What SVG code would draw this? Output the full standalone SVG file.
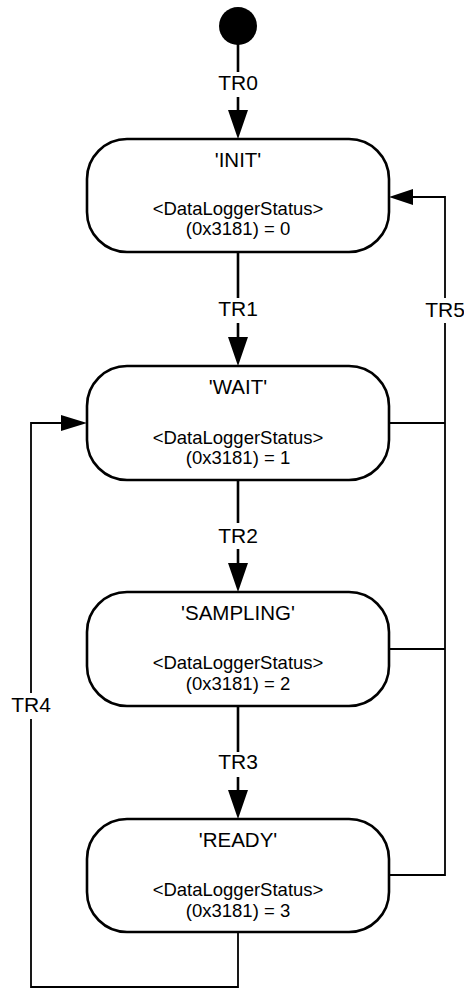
<svg xmlns="http://www.w3.org/2000/svg" width="464" height="989" viewBox="0 0 464 989">
<style>
  .box { fill: #ffffff; stroke: #000000; stroke-width: 2.6; }
  .title { font-family: "Liberation Sans", Arial, sans-serif; font-size: 20.5px; text-anchor: middle; fill: #000; }
  .body { font-family: "Liberation Sans", Arial, sans-serif; font-size: 18.5px; text-anchor: middle; fill: #000; }
  .lbl { font-family: "Liberation Sans", Arial, sans-serif; font-size: 21px; text-anchor: middle; fill: #000; }
  .thick { fill: none; stroke: #000; stroke-width: 2.6; }
  .thin { fill: none; stroke: #000; stroke-width: 1.8; }
  .head { fill: #000; stroke: none; }
</style>
<rect x="0" y="0" width="464" height="989" fill="#ffffff"/>

<g id="connectors">
  <!-- TR0 -->
  <line class="thick" x1="238" y1="44" x2="238" y2="72"/>
  <line class="thick" x1="238" y1="97" x2="238" y2="112"/>
  <polygon class="head" points="228,110 248,110 238,139"/>
  <text class="lbl" x="238" y="90">TR0</text>
  <!-- TR1 -->
  <line class="thick" x1="238" y1="252" x2="238" y2="298"/>
  <line class="thick" x1="238" y1="323" x2="238" y2="339"/>
  <polygon class="head" points="228,337 248,337 238,366"/>
  <text class="lbl" x="238" y="316">TR1</text>
  <!-- TR2 -->
  <line class="thick" x1="238" y1="480" x2="238" y2="523"/>
  <line class="thick" x1="238" y1="549" x2="238" y2="565"/>
  <polygon class="head" points="228,563 248,563 238,592"/>
  <text class="lbl" x="238" y="543">TR2</text>
  <!-- TR3 -->
  <line class="thick" x1="238" y1="706" x2="238" y2="752"/>
  <line class="thick" x1="238" y1="777" x2="238" y2="792"/>
  <polygon class="head" points="228,790 248,790 238,819"/>
  <text class="lbl" x="238" y="769">TR3</text>
  <!-- TR4 -->
  <polyline class="thin" points="238,932 238,987 31,987 31,719"/>
  <polyline class="thin" points="31,693 31,423 63,423"/>
  <polygon class="head" points="61,415 61,431 87,423"/>
  <text class="lbl" x="31" y="712">TR4</text>
  <!-- TR5 -->
  <polyline class="thin" points="389,875 445,875 445,323"/>
  <line class="thin" x1="389" y1="649" x2="445" y2="649"/>
  <line class="thin" x1="389" y1="423" x2="445" y2="423"/>
  <polyline class="thin" points="445,298 445,197 411,197"/>
  <polygon class="head" points="413,189 413,205 389,197"/>
  <text class="lbl" x="445" y="317">TR5</text>
</g>

<g id="start">
  <circle cx="238" cy="26" r="19" fill="#000"/>
</g>

<g id="INIT">
  <rect class="box" x="87" y="139" width="302" height="113" rx="40" ry="40"/>
  <text class="title" x="238" y="167">'INIT'</text>
  <text class="body" x="238" y="215">&lt;DataLoggerStatus&gt;</text>
  <text class="body" x="238" y="235">(0x3181) = 0</text>
</g>

<g id="WAIT">
  <rect class="box" x="87" y="366" width="302" height="114" rx="40" ry="40"/>
  <text class="title" x="238" y="394">'WAIT'</text>
  <text class="body" x="238" y="444">&lt;DataLoggerStatus&gt;</text>
  <text class="body" x="238" y="464">(0x3181) = 1</text>
</g>

<g id="SAMPLING">
  <rect class="box" x="87" y="592" width="302" height="114" rx="40" ry="40"/>
  <text class="title" x="238" y="620">'SAMPLING'</text>
  <text class="body" x="238" y="669">&lt;DataLoggerStatus&gt;</text>
  <text class="body" x="238" y="690">(0x3181) = 2</text>
</g>

<g id="READY">
  <rect class="box" x="87" y="819" width="302" height="113" rx="40" ry="40"/>
  <text class="title" x="238" y="847">'READY'</text>
  <text class="body" x="238" y="896">&lt;DataLoggerStatus&gt;</text>
  <text class="body" x="238" y="917">(0x3181) = 3</text>
</g>
</svg>
